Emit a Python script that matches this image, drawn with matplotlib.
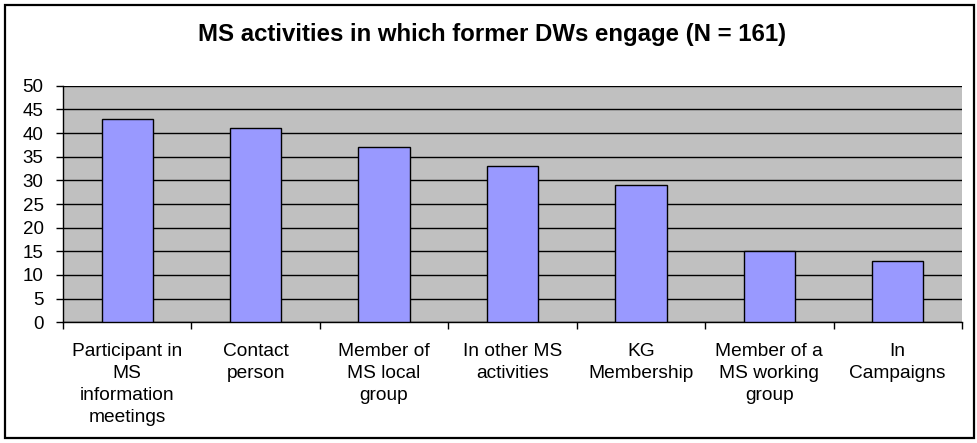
import matplotlib
matplotlib.use("Agg")
import matplotlib.pyplot as plt
from matplotlib.patches import Rectangle
import numpy as np

plt.rcParams['font.family'] = ['Liberation Sans', 'DejaVu Sans']

title = "MS activities in which former DWs engage (N = 161)"
categories = [
    "Participant in\nMS\ninformation\nmeetings",
    "Contact\nperson",
    "Member of\nMS local\ngroup",
    "In other MS\nactivities",
    "KG\nMembership",
    "Member of a\nMS working\ngroup",
    "In\nCampaigns",
]
counts = [43, 41, 37, 33, 29, 15, 13]
y_ticks = list(range(0, 55, 5))

fig = plt.figure(figsize=(9.78, 4.43), dpi=100)
ax = fig.add_axes([0.0644, 0.2725, 0.9192, 0.534])

x = np.arange(len(categories))
ax.set_facecolor("#C0C0C0")
ax.bar(x, counts, width=0.4, color="#9999FF", edgecolor="black",
       linewidth=1.0, zorder=3)

ax.set_xlim(-0.5, len(categories) - 0.5)
ax.set_ylim(0, 50)
ax.set_yticks(y_ticks)
ax.yaxis.grid(True, color="black", linewidth=1.0, zorder=1)
ax.set_axisbelow(True)

# category labels centred under bars, tick marks between categories
ax.set_xticks(x)
ax.set_xticklabels(categories, fontsize=13.8, linespacing=1.38)
ax.set_xticks(np.arange(-0.5, len(categories), 1.0), minor=True)
ax.tick_params(axis="x", which="major", length=0, pad=15)
ax.tick_params(axis="x", which="minor", length=5, width=1.0, direction="out")
ax.tick_params(axis="y", length=5, width=1.0, direction="out", pad=9,
               labelsize=13.5)

for side in ("top", "right"):
    ax.spines[side].set_visible(False)
for side in ("left", "bottom"):
    ax.spines[side].set_linewidth(1.0)
    ax.spines[side].set_color("black")

fig.text(492 / 978, 1 - 35 / 443, title, ha="center", va="center",
         fontsize=17.3, fontweight="bold")

# outer chart frame
fig.patches.append(Rectangle((5 / 978, 5 / 443), 969 / 978, 433 / 443,
                             transform=fig.transFigure, fill=False,
                             edgecolor="black", linewidth=1.6))

fig.savefig("out.png", dpi=100)
